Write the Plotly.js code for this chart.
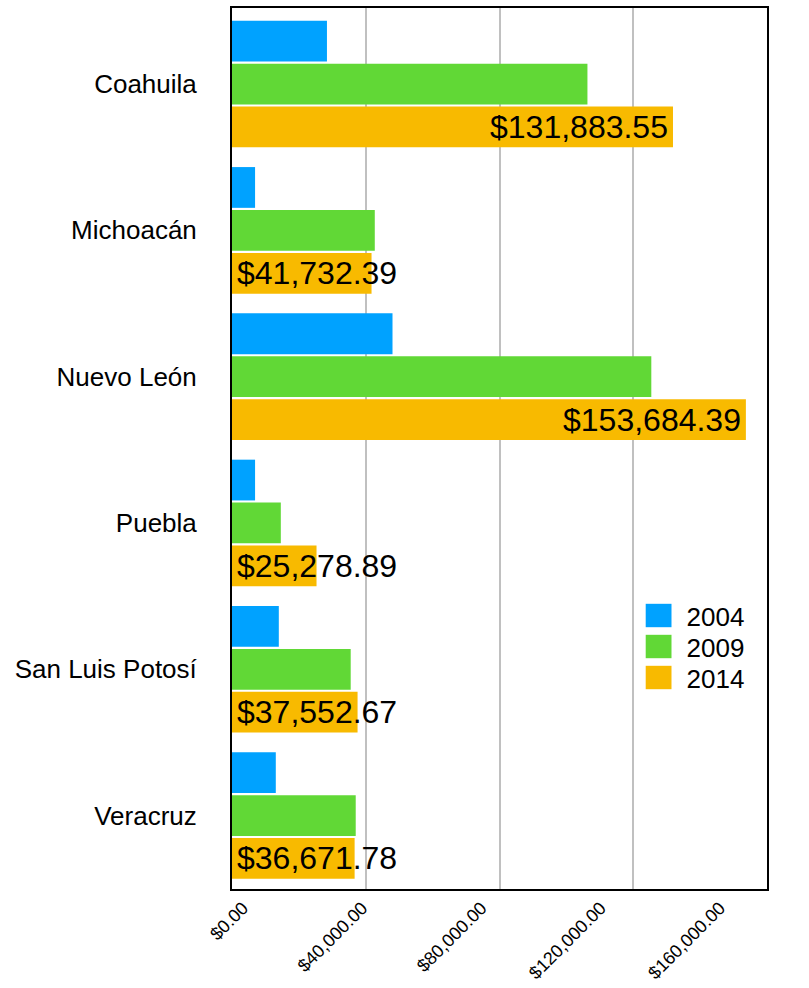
<!DOCTYPE html>
<html>
<head>
<meta charset="utf-8">
<script src="https://cdn.plot.ly/plotly-3.0.1.min.js"></script>
<style>
html,body{margin:0;padding:0;background:#fff;}
#chart{width:809px;height:988px;}
</style>
</head>
<body>
<div id="chart"></div>
<script>
const categories = ["Coahuila", "Michoacán", "Nuevo León", "Puebla", "San Luis Potosí", "Veracruz"];
const seriesNames = ["2004", "2009", "2014"];
const values2004 = [28400, 6900, 48000, 6900, 14000, 13100];
const values2009 = [106300, 42700, 125400, 14600, 35500, 37000];
const values2014 = [131883.55, 41732.39, 153684.39, 25278.89, 37552.67, 36671.78];
const colors = ["#00A2FF", "#61D836", "#F8BA00"];
const xTickVals = [0, 40000, 80000, 120000, 160000];

const FONT = '"Liberation Sans", Arial, Helvetica, sans-serif';
const xMax = 160000;
const plotW = 535;
const bargap = 0.12;

const allSeries = [values2004, values2009, values2014];
const traces = allSeries.map((vals, i) => ({
  type: 'bar',
  orientation: 'h',
  name: seriesNames[i],
  y: categories,
  x: vals,
  xaxis: 'x',
  yaxis: 'y',
  marker: {color: colors[i], line: {width: 0}},
  hoverinfo: 'x+name'
}));

function fmt(v){
  return '$' + v.toLocaleString('en-US', {minimumFractionDigits: 2, maximumFractionDigits: 2});
}

const labelSize = 32;
const slot = (1 - bargap) / 3;
const annotations = values2014.map((v, i) => {
  const txt = fmt(v);
  const barPx = v / xMax * plotW;
  const estW = txt.length * labelSize * 0.5;
  const fits = barPx > estW + 10;
  return {
    x: fits ? v : 0,
    y: i + slot,
    xref: 'x', yref: 'y',
    text: txt,
    showarrow: false,
    xanchor: fits ? 'right' : 'left',
    yanchor: 'middle',
    xshift: fits ? -3 : 3,
    yshift: 0,
    font: {family: FONT, size: labelSize, color: '#000'}
  };
});

// tick labels in the reference are spread a little tighter than the gridlines
const labelRange = [-3690, 175766];

const layout = {
  width: 809,
  height: 988,
  margin: {l: 232, r: 42, t: 8, b: 99},
  paper_bgcolor: '#fff',
  plot_bgcolor: '#fff',
  barmode: 'group',
  bargap: bargap,
  bargroupgap: 0.05,
  font: {family: FONT, color: '#000'},
  showlegend: true,
  legend: {
    x: 0.76, y: 0.337, xanchor: 'left', yanchor: 'top',
    bgcolor: 'rgba(0,0,0,0)',
    font: {family: FONT, size: 26, color: '#000'},
    traceorder: 'normal'
  },
  xaxis: {
    range: [0, xMax],
    tickvals: xTickVals,
    showticklabels: false,
    showgrid: true,
    gridcolor: '#c0c0c0',
    gridwidth: 2,
    zeroline: false,
    showline: true,
    linecolor: '#000',
    linewidth: 2,
    mirror: true,
    ticks: '',
    fixedrange: true
  },
  xaxis2: {
    overlaying: 'x',
    anchor: 'y',
    side: 'bottom',
    range: labelRange,
    tickvals: xTickVals,
    tickformat: '$,.2f',
    tickangle: -45,
    tickfont: {family: FONT, size: 18, color: '#000'},
    ticklabelstandoff: 4,
    showgrid: false,
    zeroline: false,
    showline: false,
    ticks: '',
    fixedrange: true
  },
  yaxis: {
    type: 'category',
    range: [5.502, -0.52],
    tickfont: {family: FONT, size: 26, color: '#000'},
    showgrid: false,
    zeroline: false,
    showline: true,
    linecolor: '#000',
    linewidth: 2,
    mirror: true,
    ticks: '',
    ticklabelstandoff: 28,
    fixedrange: true
  },
  annotations: annotations
};

// invisible helper trace so the label axis is drawn
traces.push({
  type: 'scatter', mode: 'markers', x: [0], y: [categories[0]],
  xaxis: 'x2', yaxis: 'y', marker: {opacity: 0}, showlegend: false, hoverinfo: 'skip'
});

Plotly.newPlot('chart', traces, layout, {displayModeBar: false, staticPlot: true}).then(() => {
  document.querySelectorAll('.legend .scrollbox').forEach(s => s.removeAttribute('clip-path'));
  document.querySelectorAll('.legend .legendpoints path').forEach(p => {
    const t = p.getAttribute('transform') || '';
    p.setAttribute('transform', t + ' scale(2.15,1.95)');
  });
  const items = document.querySelectorAll('.legend .traces');
  let y0 = null;
  items.forEach((g, i) => {
    const t = g.getAttribute('transform') || '';
    const m = t.match(/translate\(\s*([-\d.]+)[ ,]+([-\d.]+)\s*\)/);
    if (m) {
      const x = parseFloat(m[1]);
      const y = parseFloat(m[2]);
      if (y0 === null) y0 = y;
      g.setAttribute('transform', 'translate(' + x + ',' + (y0 + i * 31) + ')');
    }
  });
  document.querySelectorAll('.legend .legendtext').forEach(t => {
    const x = parseFloat(t.getAttribute('x') || '0');
    t.setAttribute('x', x + 8);
  });
});
</script>
</body>
</html>
